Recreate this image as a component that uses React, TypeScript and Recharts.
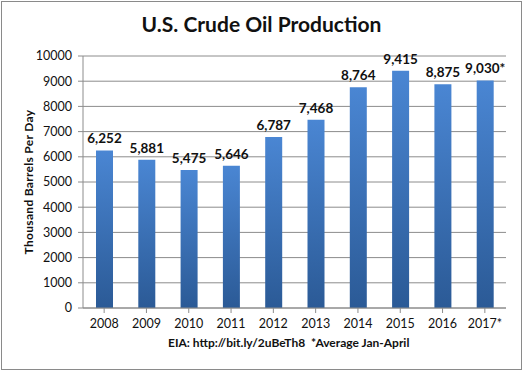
import { Bar, BarChart, CartesianGrid, LabelList, XAxis, YAxis } from 'recharts';

const years = ['2008', '2009', '2010', '2011', '2012', '2013', '2014', '2015', '2016', '2017*'];
const production = [6252, 5881, 5475, 5646, 6787, 7468, 8764, 9415, 8875, 9030];
const valueLabels = ['6,252', '5,881', '5,475', '5,646', '6,787', '7,468', '8,764', '9,415', '8,875', '9,030*'];
const yTicks = [0, 1000, 2000, 3000, 4000, 5000, 6000, 7000, 8000, 9000, 10000];

const data = years.map((year, i) => ({ year, value: production[i], label: valueLabels[i] }));

const FONT = 'Lato, "Open Sans", sans-serif';

export default function App() {
  return (
    <div
      style={{
        position: 'absolute',
        left: 0,
        top: 0,
        width: 523,
        height: 371,
        background: '#fff',
        fontFamily: FONT,
      }}
    >
      <div
        style={{
          position: 'absolute',
          left: 1,
          top: 1,
          width: 519,
          height: 367,
          border: '1px solid #8a8a8a',
        }}
      />
      <div
        style={{
          position: 'absolute',
          top: 11,
          left: 0,
          width: 523,
          textAlign: 'center',
          fontSize: 21,
          fontWeight: 700,
          color: '#111',
        }}
      >
        U.S. Crude Oil Production
      </div>
      <div
        style={{
          position: 'absolute',
          top: 335,
          left: 168,
          fontSize: 12,
          fontWeight: 700,
          color: '#111',
          whiteSpace: 'pre',
        }}
      >
        EIA: http://bit.ly/2uBeTh8  *Average Jan-April
      </div>
      <BarChart
        width={523}
        height={371}
        data={data}
        margin={{ top: 56, right: 17, bottom: 33, left: 0 }}
        barSize={17}
      >
        <defs>
          <linearGradient id="barFill" x1="0" y1="0" x2="0" y2="1">
            <stop offset="0%" stopColor="#4a86d3" />
            <stop offset="100%" stopColor="#2b5a96" />
          </linearGradient>
        </defs>
        <CartesianGrid vertical={false} stroke="#8c8c8c" />
        <XAxis
          dataKey="year"
          stroke="#8c8c8c"
          tickSize={5}
          tick={{ fill: '#111', fontSize: 12.5, fontFamily: FONT }}
          tickMargin={6}
        />
        <YAxis
          width={83}
          domain={[0, 10000]}
          ticks={yTicks}
          interval={0}
          stroke="#8c8c8c"
          tickSize={5}
          tickMargin={6}
          tick={{ fill: '#111', fontSize: 12.5, fontFamily: FONT }}
          label={{
            value: 'Thousand  Barrels Per Day',
            angle: -90,
            position: 'insideLeft',
            dx: 24,
            style: {
              textAnchor: 'middle',
              fontSize: 12,
              fontWeight: 700,
              fill: '#111',
              fontFamily: FONT,
              letterSpacing: 0.3,
            },
          }}
        />
        <Bar dataKey="value" fill="url(#barFill)" isAnimationActive={false}>
          <LabelList
            dataKey="label"
            position="top"
            offset={7}
            style={{ fontSize: 13.5, fontWeight: 700, fill: '#111', fontFamily: FONT }}
          />
        </Bar>
      </BarChart>
    </div>
  );
}
